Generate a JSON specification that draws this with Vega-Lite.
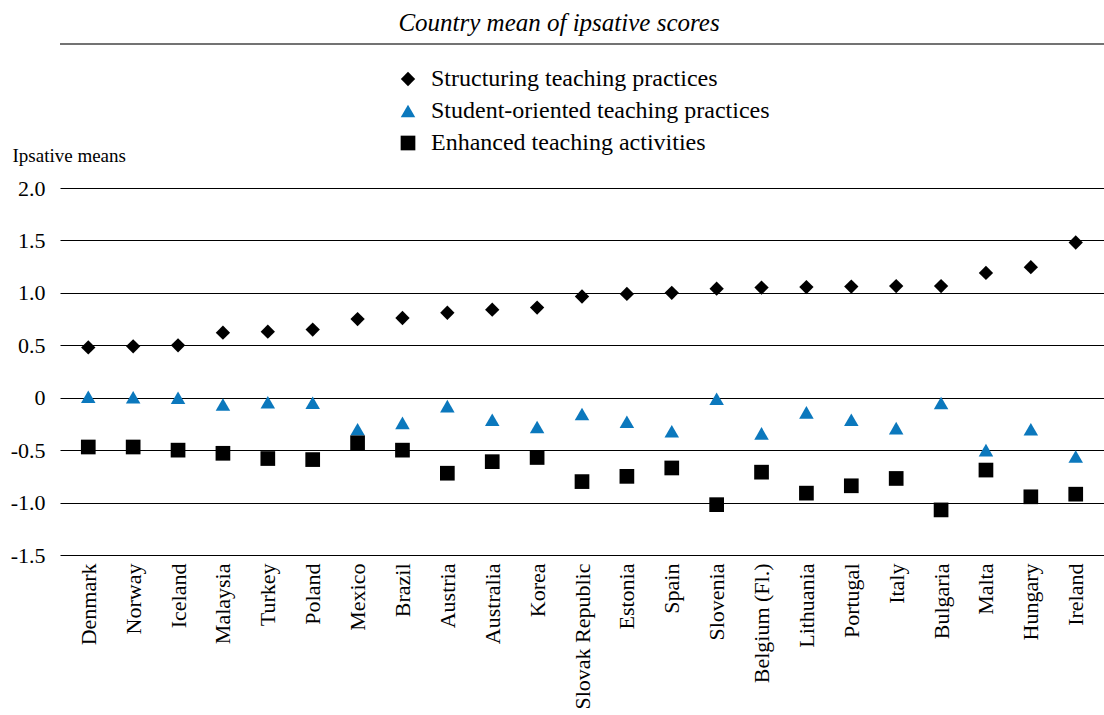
{
  "$schema": "https://vega.github.io/schema/vega-lite/v6.json",
  "width": 1044,
  "height": 367,
  "autosize": {"type": "none"},
  "padding": {"left": 60, "top": 188, "right": 0, "bottom": 160},
  "background": "white",
  "config": {
    "font": "Liberation Serif",
    "view": {"stroke": null},
    "legend": {
      "orient": "none",
      "legendX": 336,
      "legendY": -121,
      "direction": "vertical",
      "labelFontSize": 24,
      "labelColor": "black",
      "labelLimit": 500,
      "rowPadding": 8,
      "labelOffset": 11,
      "padding": 0
    },
    "axisY": {
      "values": [-1.5, -1, -0.5, 0, 0.5, 1, 1.5, 2],
      "labelExpr": "datum.value == 0 ? '0' : (datum.value < 0 ? '-' : '') + format(abs(datum.value), '.1f')",
      "grid": true,
      "gridColor": "black",
      "gridWidth": 1,
      "ticks": false,
      "domain": false,
      "labelFontSize": 22,
      "labelPadding": 15,
      "labelColor": "black",
      "titleAngle": 0,
      "titleAlign": "left",
      "titleBaseline": "alphabetic",
      "titleX": -48,
      "titleY": -27,
      "titleFontSize": 19,
      "titleFontWeight": "normal",
      "titleColor": "black"
    }
  },
  "title": {
    "text": "Country mean of ipsative scores",
    "fontStyle": "italic",
    "fontWeight": "normal",
    "fontSize": 25,
    "color": "black",
    "anchor": "middle",
    "dx": -23,
    "offset": 7
  },
  "layer": [
    {
      "data": {"values": [{}]},
      "mark": {"type": "rule", "color": "#444444", "strokeWidth": 1.5, "clip": false},
      "encoding": {
        "y": {"datum": 3.373, "type": "quantitative", "scale": {"domain": [-1.5, 2], "nice": false, "zero": false}, "axis": {"title": "Ipsative means"}}
      }
    },
    {
      "data": {
        "values": [
          {"country": "Denmark", "Structuring teaching practices": 0.48, "Student-oriented teaching practices": 0.01, "Enhanced teaching activities": -0.47},
          {"country": "Norway", "Structuring teaching practices": 0.49, "Student-oriented teaching practices": 0.005, "Enhanced teaching activities": -0.47},
          {"country": "Iceland", "Structuring teaching practices": 0.50, "Student-oriented teaching practices": 0.0, "Enhanced teaching activities": -0.50},
          {"country": "Malaysia", "Structuring teaching practices": 0.62, "Student-oriented teaching practices": -0.065, "Enhanced teaching activities": -0.53},
          {"country": "Turkey", "Structuring teaching practices": 0.63, "Student-oriented teaching practices": -0.043, "Enhanced teaching activities": -0.58},
          {"country": "Poland", "Structuring teaching practices": 0.65, "Student-oriented teaching practices": -0.048, "Enhanced teaching activities": -0.59},
          {"country": "Mexico", "Structuring teaching practices": 0.75, "Student-oriented teaching practices": -0.30, "Enhanced teaching activities": -0.43},
          {"country": "Brazil", "Structuring teaching practices": 0.76, "Student-oriented teaching practices": -0.24, "Enhanced teaching activities": -0.50},
          {"country": "Austria", "Structuring teaching practices": 0.81, "Student-oriented teaching practices": -0.08, "Enhanced teaching activities": -0.72},
          {"country": "Australia", "Structuring teaching practices": 0.84, "Student-oriented teaching practices": -0.21, "Enhanced teaching activities": -0.61},
          {"country": "Korea", "Structuring teaching practices": 0.86, "Student-oriented teaching practices": -0.28, "Enhanced teaching activities": -0.57},
          {"country": "Slovak Republic", "Structuring teaching practices": 0.965, "Student-oriented teaching practices": -0.155, "Enhanced teaching activities": -0.80},
          {"country": "Estonia", "Structuring teaching practices": 0.99, "Student-oriented teaching practices": -0.23, "Enhanced teaching activities": -0.75},
          {"country": "Spain", "Structuring teaching practices": 1.00, "Student-oriented teaching practices": -0.32, "Enhanced teaching activities": -0.67},
          {"country": "Slovenia", "Structuring teaching practices": 1.04, "Student-oriented teaching practices": -0.01, "Enhanced teaching activities": -1.02},
          {"country": "Belgium (Fl.)", "Structuring teaching practices": 1.05, "Student-oriented teaching practices": -0.34, "Enhanced teaching activities": -0.71},
          {"country": "Lithuania", "Structuring teaching practices": 1.055, "Student-oriented teaching practices": -0.14, "Enhanced teaching activities": -0.91},
          {"country": "Portugal", "Structuring teaching practices": 1.06, "Student-oriented teaching practices": -0.21, "Enhanced teaching activities": -0.84},
          {"country": "Italy", "Structuring teaching practices": 1.065, "Student-oriented teaching practices": -0.29, "Enhanced teaching activities": -0.77},
          {"country": "Bulgaria", "Structuring teaching practices": 1.065, "Student-oriented teaching practices": -0.05, "Enhanced teaching activities": -1.07},
          {"country": "Malta", "Structuring teaching practices": 1.19, "Student-oriented teaching practices": -0.50, "Enhanced teaching activities": -0.69},
          {"country": "Hungary", "Structuring teaching practices": 1.245, "Student-oriented teaching practices": -0.30, "Enhanced teaching activities": -0.945},
          {"country": "Ireland", "Structuring teaching practices": 1.48, "Student-oriented teaching practices": -0.56, "Enhanced teaching activities": -0.92}
        ]
      },
      "transform": [
        {"fold": ["Structuring teaching practices", "Student-oriented teaching practices", "Enhanced teaching activities"], "as": ["series", "value"]}
      ],
      "mark": {"type": "point", "filled": true, "opacity": 1, "strokeWidth": 0},
      "encoding": {
        "x": {
          "field": "country",
          "type": "nominal",
          "sort": null,
          "scale": {"type": "point", "padding": 0.63},
          "axis": {"title": null, "labelAngle": -90, "labelAlign": "right", "labelBaseline": "middle", "labelFontSize": 22, "labelPadding": 8, "labelColor": "black", "ticks": false, "domain": false, "grid": false, "labelLimit": 300}
        },
        "y": {
          "field": "value",
          "type": "quantitative",
          "scale": {"domain": [-1.5, 2], "nice": false, "zero": false},
          "axis": {"title": "Ipsative means"}
        },
        "color": {
          "field": "series",
          "type": "nominal",
          "scale": {"domain": ["Structuring teaching practices", "Student-oriented teaching practices", "Enhanced teaching activities"], "range": ["#000000", "#0b78bd", "#000000"]},
          "legend": {"title": null}
        },
        "shape": {
          "field": "series",
          "type": "nominal",
          "scale": {"domain": ["Structuring teaching practices", "Student-oriented teaching practices", "Enhanced teaching activities"], "range": ["diamond", "triangle-up", "square"]},
          "legend": {"title": null}
        },
        "size": {
          "field": "series",
          "type": "nominal",
          "scale": {"domain": ["Structuring teaching practices", "Student-oriented teaching practices", "Enhanced teaching activities"], "range": [205, 216, 161]},
          "legend": {"title": null}
        }
      }
    }
  ]
}
